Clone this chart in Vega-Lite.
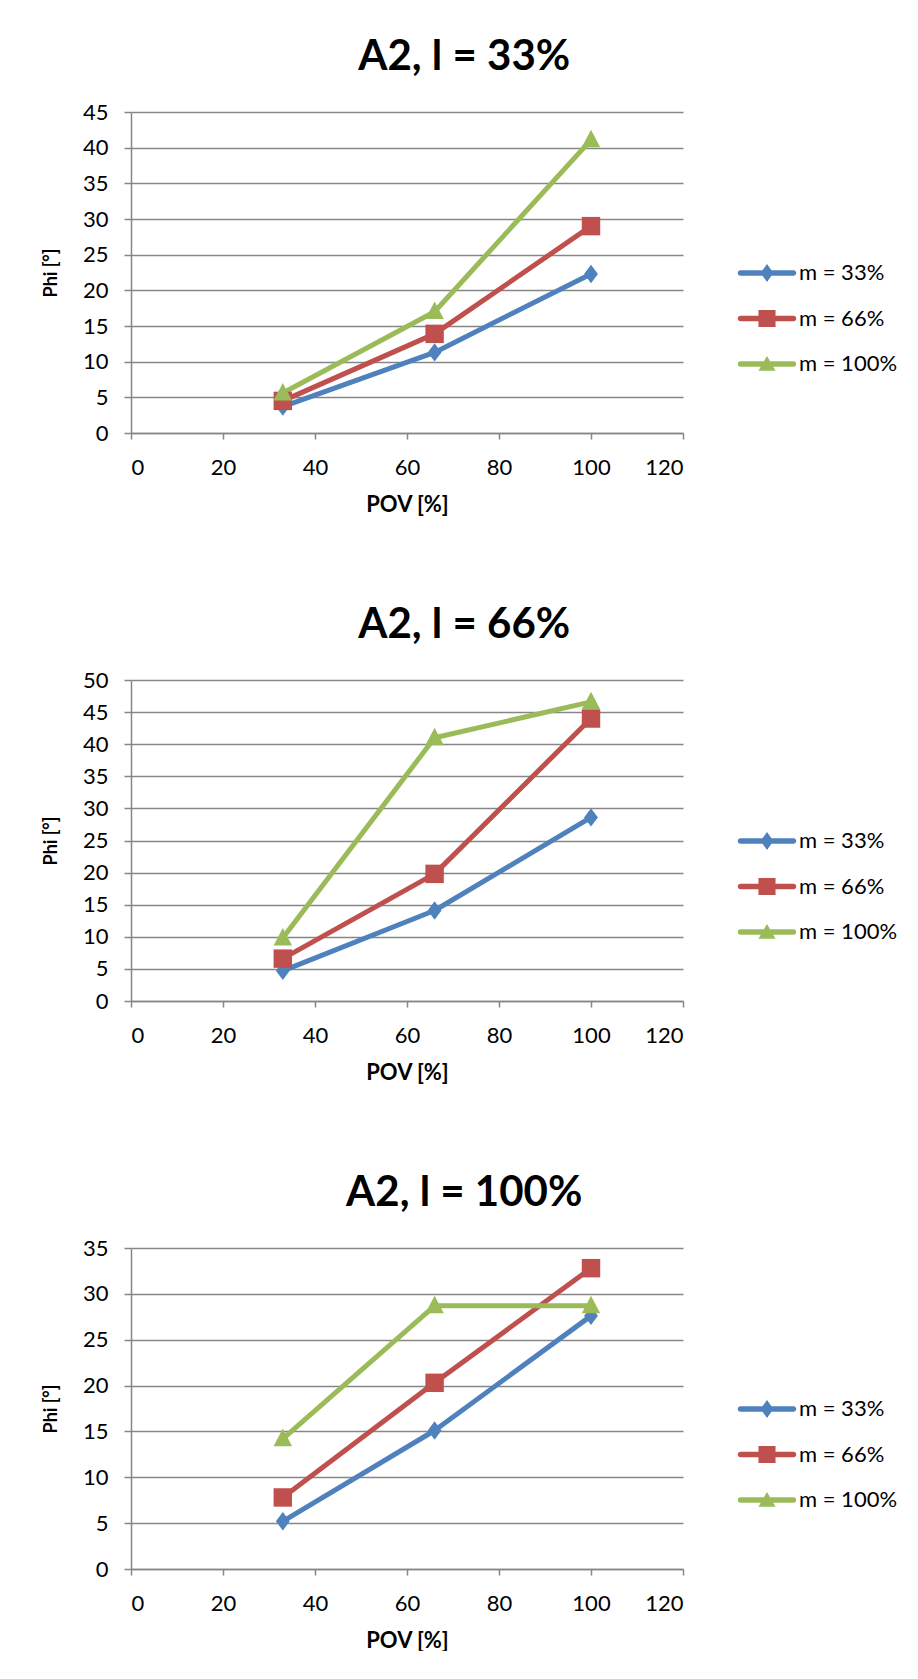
{
  "$schema": "https://vega.github.io/schema/vega-lite/v6.json",
  "background": "white",
  "padding": {"left": 42, "top": 36, "right": 0, "bottom": 0},
  "datasets": {
    "p1": [
      {"POV": 33, "Phi": 3.7, "m": "m = 33%"}, {"POV": 66, "Phi": 11.3, "m": "m = 33%"}, {"POV": 100, "Phi": 22.3, "m": "m = 33%"},
      {"POV": 33, "Phi": 4.5, "m": "m = 66%"}, {"POV": 66, "Phi": 13.9, "m": "m = 66%"}, {"POV": 100, "Phi": 29.0, "m": "m = 66%"},
      {"POV": 33, "Phi": 5.6, "m": "m = 100%"}, {"POV": 66, "Phi": 17.0, "m": "m = 100%"}, {"POV": 100, "Phi": 41.1, "m": "m = 100%"}
    ],
    "p2": [
      {"POV": 33, "Phi": 4.7, "m": "m = 33%"}, {"POV": 66, "Phi": 14.1, "m": "m = 33%"}, {"POV": 100, "Phi": 28.6, "m": "m = 33%"},
      {"POV": 33, "Phi": 6.6, "m": "m = 66%"}, {"POV": 66, "Phi": 19.8, "m": "m = 66%"}, {"POV": 100, "Phi": 44.0, "m": "m = 66%"},
      {"POV": 33, "Phi": 9.8, "m": "m = 100%"}, {"POV": 66, "Phi": 41.0, "m": "m = 100%"}, {"POV": 100, "Phi": 46.6, "m": "m = 100%"}
    ],
    "p3": [
      {"POV": 33, "Phi": 5.2, "m": "m = 33%"}, {"POV": 66, "Phi": 15.1, "m": "m = 33%"}, {"POV": 100, "Phi": 27.6, "m": "m = 33%"},
      {"POV": 33, "Phi": 7.8, "m": "m = 66%"}, {"POV": 66, "Phi": 20.3, "m": "m = 66%"}, {"POV": 100, "Phi": 32.8, "m": "m = 66%"},
      {"POV": 33, "Phi": 14.2, "m": "m = 100%"}, {"POV": 66, "Phi": 28.7, "m": "m = 100%"}, {"POV": 100, "Phi": 28.7, "m": "m = 100%"}
    ]
  },
  "config": {
    "font": "Lato",
    "view": {"stroke": null},
    "axis": {
      "labelFont": "Lato", "labelFontSize": 22, "labelColor": "#000000",
      "titleFont": "Lato", "titleFontWeight": "bold", "titleColor": "#000000",
      "domainColor": "#868686", "domainWidth": 1.5,
      "tickColor": "#868686", "tickWidth": 1.5,
      "gridColor": "#868686", "gridWidth": 1.5
    },
    "axisX": {"grid": false, "tickSize": 6, "labelPadding": 18, "titleFontSize": 22, "titlePadding": 16},
    "axisY": {"tickSize": 7, "labelPadding": 16, "titleFontSize": 18, "titlePadding": 22},
    "legend": {"orient": "none", "legendX": 625, "legendY": 150, "title": null, "padding": 0, "symbolSize": 324, "labelOffset": 21, "rowPadding": 23.5, "labelFont": "Lato", "labelFontSize": 22, "labelColor": "#000000", "symbolStrokeWidth": 0},
    "title": {"font": "Lato", "fontSize": 42, "fontWeight": "bold", "color": "#000000", "anchor": "middle", "frame": "bounds", "dx": -6},
    "concat": {"spacing": 89}
  },
  "vconcat": [
    {
      "title": {"text": "A2, l = 33%", "offset": 22},
      "width": 552, "height": 321,
      "data": {"name": "p1"},
      "encoding": {
        "x": {"field": "POV", "type": "quantitative", "title": "POV [%]",
          "scale": {"domain": [0, 120], "nice": false},
          "axis": {"values": [0, 20, 40, 60, 80, 100, 120]}},
        "y": {"field": "Phi", "type": "quantitative", "title": "Phi [°]",
          "scale": {"domain": [0, 45], "nice": false},
          "axis": {"values": [0, 5, 10, 15, 20, 25, 30, 35, 40, 45]}},
        "color": {"field": "m", "type": "nominal",
          "scale": {"domain": ["m = 33%", "m = 66%", "m = 100%"], "range": ["#4F81BD", "#C0504D", "#9BBB59"]},
          "legend": {"encode": {"symbols": {"update": {
            "shape": {"signal": "datum.value === 'm = 33%' ? 'M-2.95,-0.3H2.95A0.3,0.3 0 0 1 2.95,0.3H-2.95A0.3,0.3 0 0 1 -2.95,-0.3Z M0,-1L0.72,0L0,1L-0.72,0Z' : datum.value === 'm = 66%' ? 'M-2.95,-0.3H2.95A0.3,0.3 0 0 1 2.95,0.3H-2.95A0.3,0.3 0 0 1 -2.95,-0.3Z M-0.95,-0.95H0.95V0.95H-0.95Z' : 'M-2.95,-0.3H2.95A0.3,0.3 0 0 1 2.95,0.3H-2.95A0.3,0.3 0 0 1 -2.95,-0.3Z M0,-0.9L0.95,0.75L-0.95,0.75Z'"},
            "fill": {"signal": "datum.value === 'm = 33%' ? '#4F81BD' : datum.value === 'm = 66%' ? '#C0504D' : '#9BBB59'"},
            "stroke": {"value": "transparent"}, "strokeWidth": {"value": 0}, "opacity": {"value": 1}}}}}}
      },
      "layer": [
        {"mark": {"type": "line", "strokeWidth": 5, "strokeJoin": "round", "strokeCap": "round"}},
        {"transform": [{"filter": "datum.m === 'm = 33%'"}], "mark": {"type": "point", "filled": true, "opacity": 1, "size": 340, "strokeWidth": 0, "shape": "M0,-1L0.75,0L0,1L-0.75,0Z"}},
        {"transform": [{"filter": "datum.m === 'm = 66%'"}], "mark": {"type": "point", "filled": true, "opacity": 1, "size": 340, "strokeWidth": 0, "shape": "M-1,-1H1V1H-1Z"}},
        {"transform": [{"filter": "datum.m === 'm = 100%'"}], "mark": {"type": "point", "filled": true, "opacity": 1, "size": 340, "strokeWidth": 0, "shape": "M0,-1.1L1,0.8L-1,0.8Z"}}
      ]
    },
    {
      "title": {"text": "A2, l = 66%", "offset": 22},
      "width": 552, "height": 321,
      "data": {"name": "p2"},
      "encoding": {
        "x": {"field": "POV", "type": "quantitative", "title": "POV [%]",
          "scale": {"domain": [0, 120], "nice": false},
          "axis": {"values": [0, 20, 40, 60, 80, 100, 120]}},
        "y": {"field": "Phi", "type": "quantitative", "title": "Phi [°]",
          "scale": {"domain": [0, 50], "nice": false},
          "axis": {"values": [0, 5, 10, 15, 20, 25, 30, 35, 40, 45, 50]}},
        "color": {"field": "m", "type": "nominal",
          "scale": {"domain": ["m = 33%", "m = 66%", "m = 100%"], "range": ["#4F81BD", "#C0504D", "#9BBB59"]},
          "legend": {"encode": {"symbols": {"update": {
            "shape": {"signal": "datum.value === 'm = 33%' ? 'M-2.95,-0.3H2.95A0.3,0.3 0 0 1 2.95,0.3H-2.95A0.3,0.3 0 0 1 -2.95,-0.3Z M0,-1L0.72,0L0,1L-0.72,0Z' : datum.value === 'm = 66%' ? 'M-2.95,-0.3H2.95A0.3,0.3 0 0 1 2.95,0.3H-2.95A0.3,0.3 0 0 1 -2.95,-0.3Z M-0.95,-0.95H0.95V0.95H-0.95Z' : 'M-2.95,-0.3H2.95A0.3,0.3 0 0 1 2.95,0.3H-2.95A0.3,0.3 0 0 1 -2.95,-0.3Z M0,-0.9L0.95,0.75L-0.95,0.75Z'"},
            "fill": {"signal": "datum.value === 'm = 33%' ? '#4F81BD' : datum.value === 'm = 66%' ? '#C0504D' : '#9BBB59'"},
            "stroke": {"value": "transparent"}, "strokeWidth": {"value": 0}, "opacity": {"value": 1}}}}}}
      },
      "layer": [
        {"mark": {"type": "line", "strokeWidth": 5, "strokeJoin": "round", "strokeCap": "round"}},
        {"transform": [{"filter": "datum.m === 'm = 33%'"}], "mark": {"type": "point", "filled": true, "opacity": 1, "size": 340, "strokeWidth": 0, "shape": "M0,-1L0.75,0L0,1L-0.75,0Z"}},
        {"transform": [{"filter": "datum.m === 'm = 66%'"}], "mark": {"type": "point", "filled": true, "opacity": 1, "size": 340, "strokeWidth": 0, "shape": "M-1,-1H1V1H-1Z"}},
        {"transform": [{"filter": "datum.m === 'm = 100%'"}], "mark": {"type": "point", "filled": true, "opacity": 1, "size": 340, "strokeWidth": 0, "shape": "M0,-1.1L1,0.8L-1,0.8Z"}}
      ]
    },
    {
      "title": {"text": "A2, l = 100%", "offset": 22},
      "width": 552, "height": 321,
      "data": {"name": "p3"},
      "encoding": {
        "x": {"field": "POV", "type": "quantitative", "title": "POV [%]",
          "scale": {"domain": [0, 120], "nice": false},
          "axis": {"values": [0, 20, 40, 60, 80, 100, 120]}},
        "y": {"field": "Phi", "type": "quantitative", "title": "Phi [°]",
          "scale": {"domain": [0, 35], "nice": false},
          "axis": {"values": [0, 5, 10, 15, 20, 25, 30, 35]}},
        "color": {"field": "m", "type": "nominal",
          "scale": {"domain": ["m = 33%", "m = 66%", "m = 100%"], "range": ["#4F81BD", "#C0504D", "#9BBB59"]},
          "legend": {"encode": {"symbols": {"update": {
            "shape": {"signal": "datum.value === 'm = 33%' ? 'M-2.95,-0.3H2.95A0.3,0.3 0 0 1 2.95,0.3H-2.95A0.3,0.3 0 0 1 -2.95,-0.3Z M0,-1L0.72,0L0,1L-0.72,0Z' : datum.value === 'm = 66%' ? 'M-2.95,-0.3H2.95A0.3,0.3 0 0 1 2.95,0.3H-2.95A0.3,0.3 0 0 1 -2.95,-0.3Z M-0.95,-0.95H0.95V0.95H-0.95Z' : 'M-2.95,-0.3H2.95A0.3,0.3 0 0 1 2.95,0.3H-2.95A0.3,0.3 0 0 1 -2.95,-0.3Z M0,-0.9L0.95,0.75L-0.95,0.75Z'"},
            "fill": {"signal": "datum.value === 'm = 33%' ? '#4F81BD' : datum.value === 'm = 66%' ? '#C0504D' : '#9BBB59'"},
            "stroke": {"value": "transparent"}, "strokeWidth": {"value": 0}, "opacity": {"value": 1}}}}}}
      },
      "layer": [
        {"mark": {"type": "line", "strokeWidth": 5, "strokeJoin": "round", "strokeCap": "round"}},
        {"transform": [{"filter": "datum.m === 'm = 33%'"}], "mark": {"type": "point", "filled": true, "opacity": 1, "size": 340, "strokeWidth": 0, "shape": "M0,-1L0.75,0L0,1L-0.75,0Z"}},
        {"transform": [{"filter": "datum.m === 'm = 66%'"}], "mark": {"type": "point", "filled": true, "opacity": 1, "size": 340, "strokeWidth": 0, "shape": "M-1,-1H1V1H-1Z"}},
        {"transform": [{"filter": "datum.m === 'm = 100%'"}], "mark": {"type": "point", "filled": true, "opacity": 1, "size": 340, "strokeWidth": 0, "shape": "M0,-1.1L1,0.8L-1,0.8Z"}}
      ]
    }
  ],
  "resolve": {"scale": {"y": "independent", "x": "independent", "color": "independent"}, "legend": {"color": "independent"}}
}
